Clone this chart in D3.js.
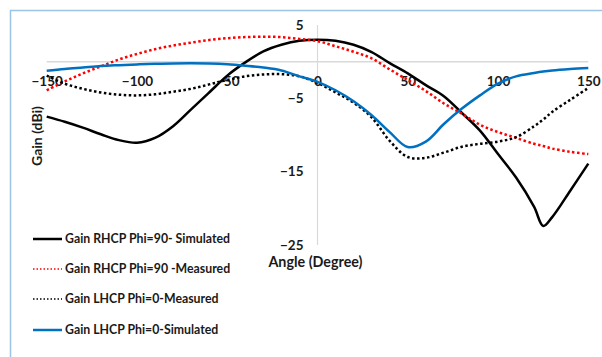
<!DOCTYPE html>
<html>
<head>
<meta charset="utf-8">
<script src="https://cdn.jsdelivr.net/npm/d3@7"></script>
<style>
  html, body { margin: 0; padding: 0; background: #fff; }
  svg { display: block; font-family: Lato, "Open Sans", sans-serif; font-weight: bold; }
</style>
</head>
<body>
<svg id="chart" width="602" height="357"></svg>
<script>
// Radiation pattern: gain (dBi) versus angle (degree)
const angles = [-150, -140, -130, -120, -110, -100, -90, -80, -70, -60, -50, -40, -30, -20, -10, 0,
                10, 20, 30, 40, 50, 60, 70, 80, 90, 100, 110, 120, 125, 130, 140, 150];

const rhcpSimulated = [-7.5, -8.2, -9.0, -9.9, -10.7, -11.05, -10.4, -8.8, -6.5, -4.2, -1.9, -0.1, 1.4, 2.3, 2.85, 3.0,
                       2.85, 2.3, 1.3, -0.2, -1.6, -3.2, -4.7, -7.0, -9.4, -12.6, -15.8, -19.8, -22.4, -21.2, -17.6, -13.9];

const rhcpMeasured = [-3.9, -2.7, -1.6, -0.65, 0.3, 1.05, 1.7, 2.2, 2.6, 2.95, 3.2, 3.35, 3.4, 3.35, 3.1, 2.8,
                      2.1, 1.35, 0.45, -1.05, -2.5, -4.0, -5.7, -7.1, -8.6, -9.6, -10.4, -11.2, -11.5, -11.85, -12.3, -12.6];

const lhcpMeasured = [-1.9, -3.0, -3.7, -4.2, -4.5, -4.6, -4.45, -4.1, -3.7, -3.1, -2.5, -2.0, -1.75, -1.7, -2.0, -2.9,
                      -4.2, -5.6, -7.6, -10.8, -13.0, -13.1, -12.4, -11.6, -11.2, -10.9, -10.3, -8.8, -7.9, -6.85, -5.2, -3.6];

const lhcpSimulated = [-1.25, -1.0, -0.8, -0.6, -0.48, -0.38, -0.3, -0.24, -0.22, -0.25, -0.35, -0.55, -0.8, -1.2, -2.0, -2.75,
                       -3.9, -5.4, -7.3, -9.6, -11.65, -10.9, -8.5, -6.4, -4.6, -3.0, -2.0, -1.55, -1.35, -1.2, -1.0, -0.85];

const xTicks = [-150, -100, -50, 0, 50, 100, 150];
const yTicks = [5, -5, -15, -25];

const seriesNames = [
  "Gain RHCP Phi=90- Simulated",
  "Gain RHCP Phi=90 -Measured",
  "Gain LHCP Phi=0-Measured",
  "Gain LHCP Phi=0-Simulated"
];

const series = [
  { name: seriesNames[0], values: rhcpSimulated, color: "#000000", dash: null },
  { name: seriesNames[1], values: rhcpMeasured,  color: "#ff0000", dash: "2.5 2.5" },
  { name: seriesNames[2], values: lhcpMeasured,  color: "#000000", dash: "2.5 2.5" },
  { name: seriesNames[3], values: lhcpSimulated, color: "#0070c0", dash: null }
];

const textColor = "#1a1a1a";
const svg = d3.select("#chart");

// outer frame
svg.append("rect")
  .attr("x", 10.5).attr("y", 10.5)
  .attr("width", 600).attr("height", 400)
  .attr("fill", "none")
  .attr("stroke", "#9dc3e6")
  .attr("stroke-width", 1.5);

const x = d3.scaleLinear().domain([-150, 150]).range([46.7, 588.3]);
const y = d3.scaleLinear().domain([-25, 5]).range([245, 25]);

// axis lines crossing at the origin
svg.append("line")
  .attr("x1", x(-150)).attr("x2", x(150))
  .attr("y1", y(0)).attr("y2", y(0))
  .attr("stroke", "#d9d9d9").attr("stroke-width", 1.5);
svg.append("line")
  .attr("x1", x(0)).attr("x2", x(0))
  .attr("y1", y(5)).attr("y2", y(-25))
  .attr("stroke", "#d9d9d9").attr("stroke-width", 1.2);

// x tick labels (drawn just under the zero line)
const xAxis = d3.axisBottom(x).tickValues(xTicks).tickSize(0).tickPadding(0).tickFormat(d3.format("d"));
const gx = svg.append("g").attr("transform", `translate(0,${y(0) + 15})`).call(xAxis);
gx.select(".domain").remove();
gx.selectAll("text")
  .attr("font-size", 13.5).attr("font-weight", "bold").attr("fill", textColor)
  .attr("font-family", "Lato, sans-serif").attr("dy", "0.71em");

// y tick labels (left of the vertical axis)
const yAxis = d3.axisLeft(y).tickValues(yTicks).tickSize(0).tickPadding(0).tickFormat(d3.format("d"));
const gy = svg.append("g").attr("transform", `translate(${x(0) - 14},0)`).call(yAxis);
gy.select(".domain").remove();
gy.selectAll("text")
  .attr("font-size", 13.5).attr("font-weight", "bold").attr("fill", textColor)
  .attr("font-family", "Lato, sans-serif");

// axis titles
svg.append("text")
  .attr("transform", "translate(42,136) rotate(-90)")
  .attr("text-anchor", "middle")
  .attr("font-size", 14).attr("fill", textColor)
  .text("Gain (dBi)");
svg.append("text")
  .attr("x", x(0) - 2).attr("y", 267)
  .attr("text-anchor", "middle")
  .attr("font-size", 14.3).attr("fill", textColor)
  .text("Angle (Degree)");

// series curves
const line = d3.line()
  .x((d, i) => x(angles[i]))
  .y(d => y(d))
  .curve(d3.curveCatmullRom.alpha(0.5));

svg.append("g").selectAll("path")
  .data(series)
  .join("path")
  .attr("d", d => line(d.values))
  .attr("fill", "none")
  .attr("stroke", d => d.color)
  .attr("stroke-width", 2.5)
  .attr("stroke-dasharray", d => d.dash);

// legend
const legendY = [239, 269, 299, 330];
const lg = svg.append("g").selectAll("g")
  .data(series)
  .join("g")
  .attr("transform", (d, i) => `translate(0,${legendY[i]})`);
lg.append("line")
  .attr("x1", 33).attr("x2", 62).attr("y1", 0).attr("y2", 0)
  .attr("stroke", d => d.color)
  .attr("stroke-width", d => d.dash ? 1.5 : 2.5)
  .attr("stroke-dasharray", d => d.dash ? "1.5 2" : null);
lg.append("text")
  .attr("x", 65).attr("y", 0).attr("dy", "0.35em")
  .attr("font-size", 12.3).attr("fill", textColor)
  .text(d => d.name);
</script>
</body>
</html>
